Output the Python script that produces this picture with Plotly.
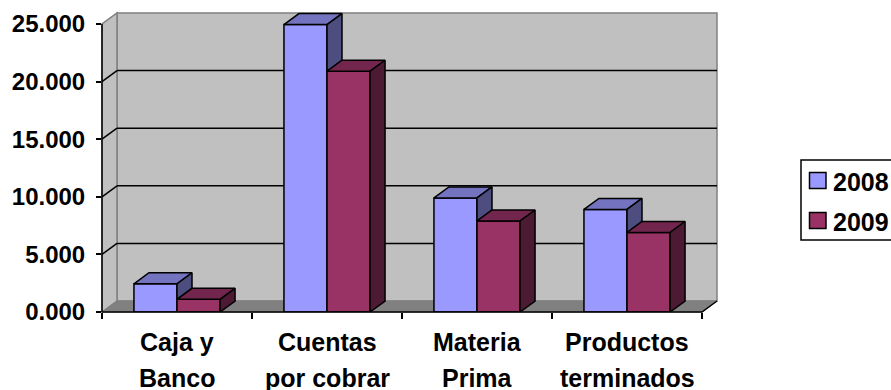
import plotly.graph_objects as go

# ---- data ----
categories = ["Caja y<br>Banco", "Cuentas<br>por cobrar", "Materia<br>Prima", "Productos<br>terminados"]
series_names = ["2008", "2009"]
values_2008 = [2.45, 24.95, 9.9, 8.9]
values_2009 = [1.1, 20.9, 7.9, 6.9]
y_ticks = [0, 5, 10, 15, 20, 25]

# ---- geometry / style constants ----
W, H = 891, 390
X0, X1 = -0.5, 3.62
Y0, Y1 = 0.0, 26.042
ML, MB, MT = 102, 78, 12
PW, PH = 618, 300
MR = W - ML - PW
DX, DY = 0.1, 0.955          # depth offset in data units
BW = 0.287                   # bar width in category units
YMAX = 25
FONT = dict(family="Liberation Sans, Arial, sans-serif", size=25, color="black", weight="bold")
TICKFONT = dict(FONT, size=24)

front = ["#9999FF", "#993366"]
top = ["#7373BF", "#73264D"]
side = ["#4D4D80", "#4D1A33"]
EDGE = dict(color="black", width=1.5)


def px(x):
    return (x - X0) / (X1 - X0)


def py(y):
    return (y - Y0) / (Y1 - Y0)


def ppx(p):  # pixel -> paper x
    return (p - ML) / PW


def ppy(p):  # pixel -> paper y
    return (H - MB - p) / PH


def path(points):
    return "M " + " L ".join(f"{px(x):.5f},{py(y):.5f}" for x, y in points) + " Z"


fig = go.Figure()
shapes = []
ncat = len(categories)
xl, xr = -0.5, ncat - 0.5

# back wall
shapes.append(dict(type="path", xref="paper", yref="paper", layer="below",
                   path=path([(xl + DX, DY), (xr + DX, DY), (xr + DX, YMAX + DY), (xl + DX, YMAX + DY)]),
                   fillcolor="#C0C0C0", line=dict(color="#808080", width=1.5)))
# side wall
shapes.append(dict(type="path", xref="paper", yref="paper", layer="below",
                   path=path([(xl, 0), (xl + DX, DY), (xl + DX, YMAX + DY), (xl, YMAX)]),
                   fillcolor="#C0C0C0", line=dict(color="#808080", width=1.5)))
# floor
shapes.append(dict(type="path", xref="paper", yref="paper", layer="below",
                   path=path([(xl, 0), (xr, 0), (xr + DX, DY), (xl + DX, DY)]),
                   fillcolor="#808080", line=dict(color="#808080", width=1)))
# gridlines on back wall and side wall
for v in y_ticks[1:-1]:
    shapes.append(dict(type="line", xref="paper", yref="paper", layer="below",
                       x0=px(xl + DX), y0=py(v + DY), x1=px(xr + DX), y1=py(v + DY),
                       line=dict(color="black", width=1.5)))
    shapes.append(dict(type="line", xref="paper", yref="paper", layer="below",
                       x0=px(xl), y0=py(v), x1=px(xl + DX), y1=py(v + DY),
                       line=dict(color="black", width=1.5)))

# front faces (bars)
vals = [values_2008, values_2009]
for k, name in enumerate(series_names):
    fig.add_trace(go.Bar(
        x=list(range(ncat)), y=vals[k], name=name, showlegend=False,
        width=BW, offset=(-BW if k == 0 else 0),
        marker=dict(color=front[k], line=EDGE),
    ))


def face(poly, color):
    fig.add_trace(go.Scatter(x=[p[0] for p in poly] + [poly[0][0]], y=[p[1] for p in poly] + [poly[0][1]],
                             fill="toself", fillcolor=color, mode="lines", line=EDGE,
                             showlegend=False, hoverinfo="skip"))


# 3D top and side faces computed from data
for i in range(ncat):
    a, b = values_2008[i], values_2009[i]
    x0, x1 = i - BW, i
    face([(x0, a), (x1, a), (x1 + DX, a + DY), (x0 + DX, a + DY)], top[0])
    low = min(a, b)
    face([(x1, low), (x1 + DX, low + DY), (x1 + DX, a + DY), (x1, a)], side[0])
    x0, x1 = i, i + BW
    face([(x0, b), (x1, b), (x1 + DX, b + DY), (x0 + DX, b + DY)], top[1])
    face([(x1, 0), (x1 + DX, DY), (x1 + DX, b + DY), (x1, b)], side[1])

# front axis lines
shapes.append(dict(type="line", xref="paper", yref="paper", x0=px(xl), y0=py(0), x1=px(xl), y1=py(YMAX),
                   line=dict(color="black", width=1.5)))
shapes.append(dict(type="path", xref="paper", yref="paper",
                   path=f"M {px(xl):.5f},{py(0):.5f} L {px(xr):.5f},{py(0):.5f} L {px(xr + DX):.5f},{py(DY):.5f}",
                   line=dict(color="black", width=1.5)))

# category labels
annotations = []
for i, c in enumerate(categories):
    for j, line in enumerate(c.split("<br>")):
        annotations.append(dict(x=i, xref="x", y=0, yref="paper", text=line, showarrow=False,
                                yanchor="middle", xanchor="center", yshift=-30 - 36 * j, font=FONT))

# legend (box, swatches, labels)
LEG_L, LEG_T, LEG_B = 801, 160, 240
shapes.append(dict(type="rect", xref="paper", yref="paper",
                   x0=ppx(LEG_L), x1=ppx(W + 20), y0=ppy(LEG_B), y1=ppy(LEG_T),
                   fillcolor="white", line=dict(color="black", width=1.5)))
for k, name in enumerate(series_names):
    cy = 180.5 + 40 * k
    shapes.append(dict(type="rect", xref="paper", yref="paper",
                       x0=ppx(809.5), x1=ppx(826), y0=ppy(cy + 8), y1=ppy(cy - 8),
                       fillcolor=front[k], line=dict(color="black", width=1.5)))
    annotations.append(dict(x=ppx(831), xref="paper", y=ppy(cy + 1.5), yref="paper", text=name,
                            showarrow=False, xanchor="left", yanchor="middle", font=FONT))

fig.update_layout(
    width=W, height=H,
    margin=dict(l=ML, r=MR, t=MT, b=MB, autoexpand=False),
    paper_bgcolor="white", plot_bgcolor="white",
    barmode="overlay",
    shapes=shapes, annotations=annotations,
    font=FONT,
    showlegend=False,
    xaxis=dict(range=[X0, X1], tickvals=[i - 0.5 for i in range(ncat + 1)], showticklabels=False,
               ticks="outside", ticklen=6, tickwidth=1.5, tickcolor="black",
               showgrid=False, zeroline=False, showline=False, fixedrange=True),
    yaxis=dict(range=[Y0, Y1], tickvals=y_ticks, tickformat=".3f", ticks="outside", ticklen=5,
               tickwidth=1.5, tickcolor="black", ticklabelstandoff=6, tickfont=TICKFONT,
               showgrid=False, zeroline=False, showline=False, fixedrange=True),
)

fig.write_html("out.html")
